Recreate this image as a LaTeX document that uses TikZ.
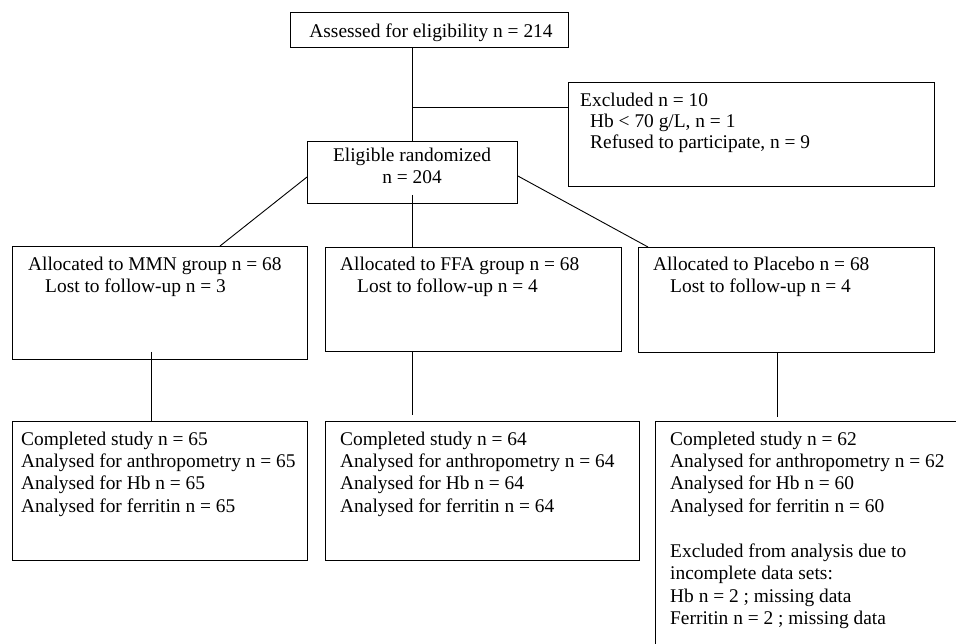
\documentclass[tikz,border=0pt]{standalone}
\usepackage{fontspec}
\setmainfont{Liberation Serif}
\usetikzlibrary{calc}
\begin{document}
\begin{tikzpicture}[x=1pt,y=-1pt,
  box/.style={draw, line width=0.9pt, anchor=north west, inner sep=0pt, rectangle},
  conn/.style={draw, line width=0.9pt},
  txt/.style={anchor=north west, inner sep=0pt, align=left, font=\fontsize{19.4}{22.3}\selectfont},
  ctxt/.style={anchor=north, inner sep=0pt, align=center, font=\fontsize{19.4}{22.3}\selectfont}]
\clip (0,0) rectangle (956,643);
\fill[white] (0,0) rectangle (956,643);
% boxes
\node[box, minimum width=278pt, minimum height=35pt] (assess) at (290,12) {};
\node[box, minimum width=366pt, minimum height=104pt] (excl) at (568,82) {};
\node[box, minimum width=210pt, minimum height=62pt] (elig) at (307,141) {};
\node[box, minimum width=295pt, minimum height=113pt] (mmn) at (12,246) {};
\node[box, minimum width=296pt, minimum height=104pt] (ffa) at (325,247) {};
\node[box, minimum width=296pt, minimum height=105pt] (plac) at (638,247) {};
\node[box, minimum width=295pt, minimum height=139pt] (c1) at (12,421) {};
\node[box, minimum width=314pt, minimum height=139pt] (c2) at (325,421) {};
\node[box, minimum width=400pt, minimum height=300pt] (c3) at (655,421) {};
% texts
\node[ctxt] (tassess) at (431,23) {\rule{0pt}{14pt}Assessed for eligibility n = 214};
\node[txt, font=\fontsize{19.4}{21.3}\selectfont] (texcl) at (580,92) {\rule{0pt}{14pt}Excluded n = 10\\
  \hspace{10pt}Hb < 70 g/L, n = 1\\
  \hspace{10pt}Refused to participate, n = 9};
\node[ctxt] (telig) at (412,147) {\rule{0pt}{14pt}Eligible randomized\\n = 204};
\node[txt] (tmmn) at (28,256) {\rule{0pt}{14pt}Allocated to MMN group n = 68\\
  \hspace{17pt}Lost to follow-up n = 3};
\node[txt] (tffa) at (340,256) {\rule{0pt}{14pt}Allocated to FFA group n = 68\\
  \hspace{17pt}Lost to follow-up n = 4};
\node[txt] (tplac) at (653,256) {\rule{0pt}{14pt}Allocated to Placebo n = 68\\
  \hspace{17pt}Lost to follow-up n = 4};
\node[txt] (tc1) at (21,431) {\rule{0pt}{14pt}Completed study n = 65\\
  Analysed for anthropometry n = 65\\
  Analysed for Hb n = 65\\
  Analysed for ferritin n = 65};
\node[txt] (tc2) at (340,431) {\rule{0pt}{14pt}Completed study n = 64\\
  Analysed for anthropometry n = 64\\
  Analysed for Hb n = 64\\
  Analysed for ferritin n = 64};
\node[txt] (tc3) at (670,431) {\rule{0pt}{14pt}Completed study n = 62\\
  Analysed for anthropometry n = 62\\
  Analysed for Hb n = 60\\
  Analysed for ferritin n = 60\\[23pt]
  Excluded from analysis due to\\
  incomplete data sets:\\
  Hb n = 2 ; missing data\\
  Ferritin n = 2 ; missing data};
% connector points
\coordinate (br) at (412,107);
\coordinate (eL) at ($(elig.north west)+(0,36)$);
\coordinate (eR) at ($(elig.north east)+(0,35)$);
\coordinate (eB) at ($(elig.south)+(0,-9)$);
\coordinate (mT) at ($(mmn.north west)+(208,0)$);
\coordinate (pT) at ($(plac.north west)+(10,0)$);
\coordinate (mB) at ($(mmn.south west)+(139,-8)$);
\coordinate (fB) at ($(ffa.south west)+(87,0)$);
\coordinate (pB) at ($(plac.south west)+(139,0)$);
% connectors
\draw[conn] (assess.south -| elig.north) -- (elig.north);
\draw[conn] (br) -- (br -| excl.west);
\draw[conn] (eB) -- (eB |- ffa.north);
\draw[conn] (eL) -- (mT);
\draw[conn] (eR) -- (pT);
\draw[conn] (mB) -- (mB |- c1.north);
\draw[conn] (fB) -- ($(fB |- c2.north)+(0,-6)$);
\draw[conn] (pB) -- ($(pB |- c3.north)+(0,-4)$);
\end{tikzpicture}
\end{document}
